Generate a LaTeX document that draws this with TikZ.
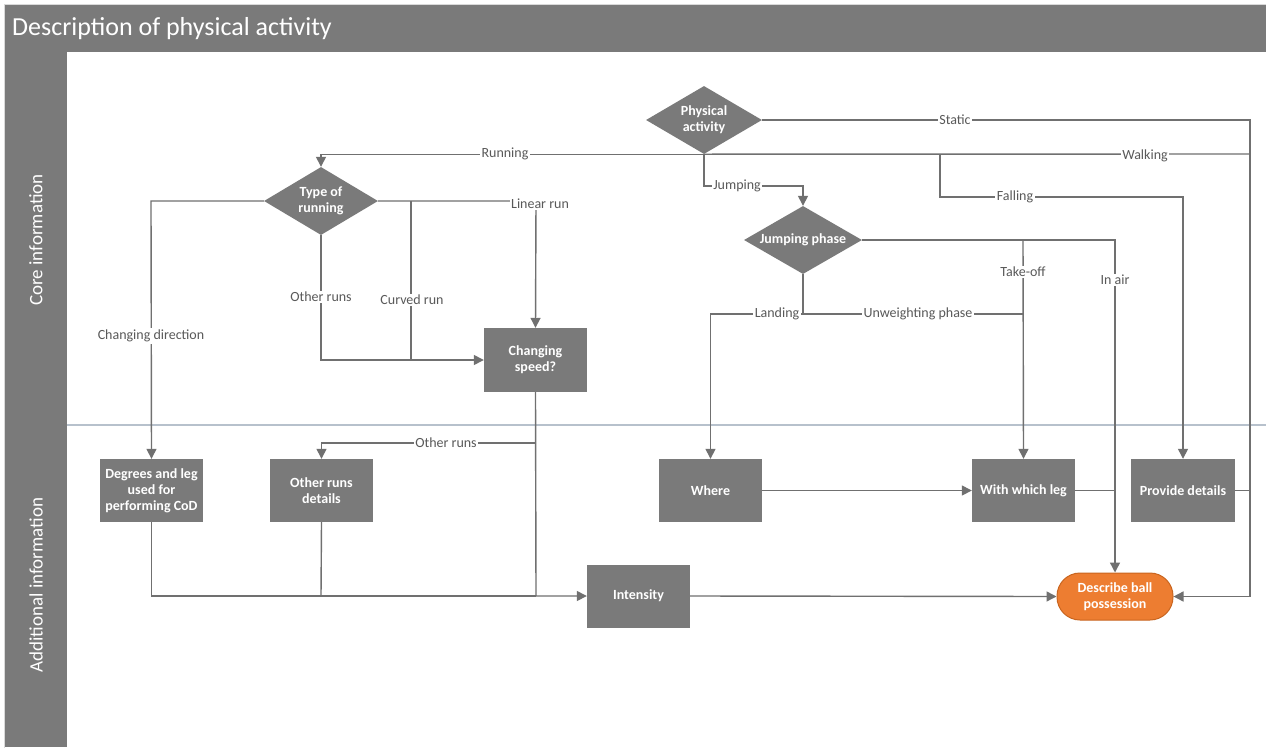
\documentclass[tikz,border=0pt]{standalone}
\usepackage{fontspec}
\setmainfont{Carlito}
\usetikzlibrary{shapes.geometric,arrows.meta}
\definecolor{boxgrey}{HTML}{7A7A7A}
\definecolor{linegrey}{HTML}{707070}
\definecolor{txtgrey}{HTML}{595959}
\definecolor{orangeA}{HTML}{ED7D31}
\definecolor{orangeB}{HTML}{C9651F}
\definecolor{lanesep}{HTML}{B7C1CC}
\begin{document}
\begin{tikzpicture}[x=1pt,y=-1pt,
  box/.style={rectangle, fill=boxgrey, text=white, minimum width=103pt, minimum height=63pt, align=center, inner sep=2pt, font=\fontsize{14}{16}\selectfont\bfseries},
  dia/.style={diamond, aspect=1.7, fill=boxgrey, text=white, minimum width=116pt, minimum height=68pt, inner sep=0pt, align=center, font=\fontsize{14}{16}\selectfont\bfseries},
  conn/.style={draw=linegrey, line width=1.4pt},
  arr/.style={conn, -{Triangle[length=10pt,width=10pt]}},
  lbl/.style={fill=white, text=txtgrey, inner sep=1.5pt, font=\fontsize{14}{16}\selectfont},
  lane/.style={rotate=90, text=white, font=\fontsize{19}{22}\selectfont},
]
\useasboundingbox (0,0) rectangle (1266,747);
\fill[white] (0,0) rectangle (1266,747);
\draw[black!15, line width=0.8pt] (4,4) rectangle (1270,751);
% title bar and lane column
\fill[boxgrey] (5,5) rectangle (1266,52);
\fill[boxgrey] (5,52) rectangle (67,747);
\node[anchor=west, text=white, font=\fontsize{26}{30}\selectfont, inner sep=0pt] (title) at (12,29) {Description of physical activity};
\node[lane] (core) at (36,240) {Core information};
\node[lane] (addl) at (36,585) {Additional information};
\draw[lanesep, line width=2pt] (67,425) -- (1266,425);

% nodes
\node[dia] (pa) at (704,120) {Physical\\activity};
\node[dia, minimum width=114pt] (tr) at (321,201) {Type of\\running};
\node[dia, minimum width=118pt] (jp) at (803,240) {Jumping phase};
\node[box, minimum height=64pt] (cs) at (535.5,360) {Changing\\speed?};
\node[box] (deg) at (151.5,490.5) {Degrees and leg\\used for\\performing CoD};
\node[box] (ord) at (321.5,490.5) {Other runs\\details};
\node[box] (int) at (638.5,596) {Intensity};
\node[box] (where) at (710.5,490.5) {Where};
\node[box] (wwl) at (1023.5,490.5) {With which leg};
\node[box, minimum width=104pt] (pd) at (1183,490.5) {Provide details};
\node[rectangle, rounded corners=23pt, fill=orangeA, draw=orangeB, line width=1pt, text=white, minimum width=116pt, minimum height=47pt, align=center, inner sep=2pt, font=\fontsize{14}{16}\selectfont\bfseries] (db) at (1115,596.5) {Describe ball\\possession};

% coordinates
\coordinate (statE) at (1250,120);
\coordinate (walkE) at (1250,154);
\coordinate (dbE) at (1250,596.5);
\coordinate (fallA) at (940,154);
\coordinate (fallB) at (940,197);
\coordinate (jmpA) at (704,186);
\coordinate (inairA) at (1115,240);
\coordinate (toA) at (1023,240);
\coordinate (jpB) at (803,314);
\coordinate (toB) at (1023,314);
\coordinate (inairB) at (1115,490.5);
\coordinate (pdE) at (1250,490.5);
\coordinate (cdA) at (151,201);
\coordinate (lrA) at (536,201);
\coordinate (crA) at (411,201);
\coordinate (crB) at (411,360);
\coordinate (orA) at (321,360);
\coordinate (csB) at (536,443);
\coordinate (csC) at (536,596);
\coordinate (ordB) at (321,596);

% connectors from physical activity
\draw[arr] (pa.south) -| (tr.north);
\draw[conn] (pa.south) -- (walkE);
\draw[conn] (pa.east) -- (statE) -- (dbE);
\draw[arr] (dbE) -- (db.east);
\draw[arr] (fallA) -- (fallB) -| (pd.north);
\draw[arr] (pa.south) -- (jmpA) -| (jp.north);

% jumping phase
\draw[arr] (jp.east) -- (inairA) -- (db.north);
\draw[arr] (toA) -- (wwl.north);
\draw[arr] (jp.south) -- (jpB) -| (where.north);
\draw[conn] (jpB) -- (toB);
\draw[arr] (where.east) -- (wwl.west);
\draw[conn] (wwl.east) -- (inairB);
\draw[conn] (pd.east) -- (pdE);

% type of running
\draw[arr] (tr.west) -- (cdA) -- (deg.north);
\draw[arr] (tr.east) -- (lrA) -- (cs.north);
\draw[conn] (crA) -- (crB);
\draw[arr] (tr.south) -- (orA) -- (cs.west);

% changing speed and additional
\draw[arr] (cs.south) -- (csC) -- (int.west);
\draw[arr] (csB) -| (ord.north);
\draw[conn] (deg.south) |- (csC);
\draw[conn] (ord.south) -- (ordB);
\draw[arr] (int.east) -- (db.west);

% labels
\node[lbl] (lRun) at (505,154) {Running};
\node[lbl] (lStat) at (955,120) {Static};
\node[lbl] (lWalk) at (1145,156) {Walking};
\node[lbl] (lFall) at (1015,197) {Falling};
\node[lbl] (lJump) at (737,186) {Jumping};
\node[lbl] (lAir) at (1115,280) {In air};
\node[lbl] (lTO) at (1023,272) {Take-off};
\node[lbl] (lLand) at (777,314) {Landing};
\node[lbl] (lUnw) at (918,314) {Unweighting phase};
\node[lbl] (lCD) at (151,336) {Changing direction};
\node[lbl] (lLin) at (540,204) {Linear run};
\node[lbl] (lCur) at (412,300) {Curved run};
\node[lbl] (lOth) at (321,297) {Other runs};
\node[lbl] (lOth2) at (446,443) {Other runs};
\end{tikzpicture}
\end{document}
